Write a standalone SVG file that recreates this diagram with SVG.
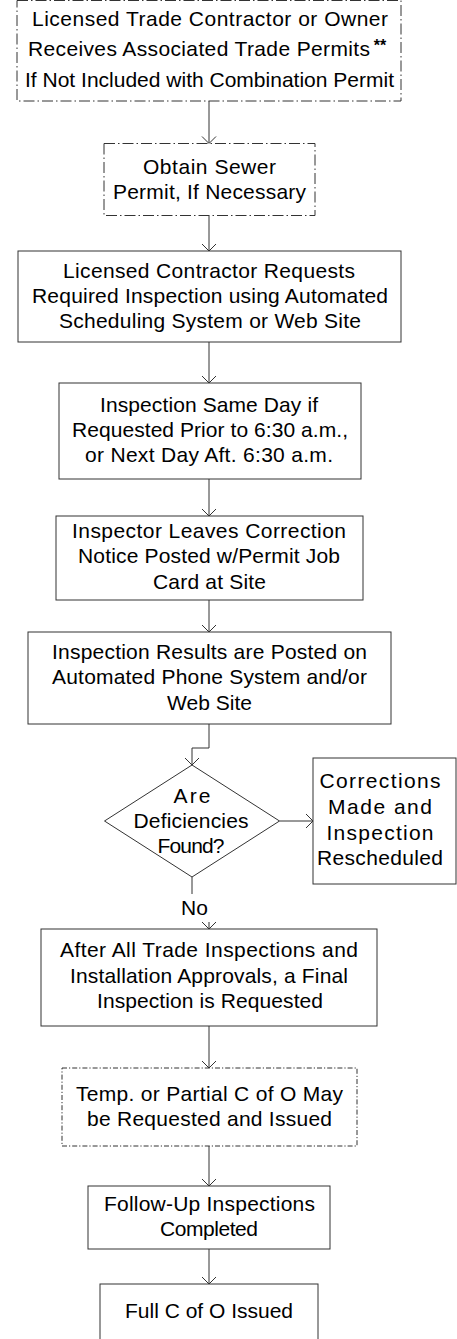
<svg xmlns="http://www.w3.org/2000/svg" width="457" height="1339" viewBox="0 0 457 1339">
<defs>
<style>
.box{fill:#fff;stroke:#333;stroke-width:1}
.dd{stroke-dasharray:11 3 1.5 3}
.dd2{stroke-dasharray:5 2 1.2 2}
.t{font-family:"Liberation Sans",Arial,sans-serif;font-size:21px;fill:#000;text-anchor:middle}
.c{fill:none;stroke:#333;stroke-width:1}
</style>
<marker id="ah" markerUnits="userSpaceOnUse" markerWidth="16" markerHeight="16" viewBox="-8 -8 16 16" refX="0" refY="0" orient="auto">
<path d="M-7,-7 L0,0 L-7,7" fill="none" stroke="#333" stroke-width="1"/>
</marker>
</defs>
<rect width="457" height="1339" fill="#fff"/>
<g id="connectors">
<path class="c" d="M209,101 V143.5" marker-end="url(#ah)"/>
<path class="c" d="M209,215.5 V251" marker-end="url(#ah)"/>
<path class="c" d="M209,342 V383" marker-end="url(#ah)"/>
<path class="c" d="M209,479 V516" marker-end="url(#ah)"/>
<path class="c" d="M209,600 V632" marker-end="url(#ah)"/>
<path class="c" d="M209,724 V748 H192 V765" marker-end="url(#ah)"/>
<path class="c" d="M279.5,821 H313" marker-end="url(#ah)"/>
<path class="c" d="M192,877 V905 H209 V929" marker-end="url(#ah)"/>
<path class="c" d="M209,1026 V1068" marker-end="url(#ah)"/>
<path class="c" d="M209,1146 V1186" marker-end="url(#ah)"/>
<path class="c" d="M209,1249 V1284" marker-end="url(#ah)"/>
</g>
<g id="label-no">
<rect x="179" y="894" width="33" height="28" fill="#fff"/>
<text class="t" x="194.5" y="915">No</text>
</g>
<g id="n1">
<rect class="box dd" x="17" y="0.5" width="384" height="100.5"/>
<text class="t" x="210" y="26" textLength="356" lengthAdjust="spacing">Licensed Trade Contractor or Owner</text>
<text class="t" x="199" y="56" textLength="342" lengthAdjust="spacing">Receives Associated Trade Permits</text>
<text x="380" y="51" style="font-family:'Liberation Sans',Arial,sans-serif;font-size:16px;font-weight:bold;text-anchor:middle">**</text>
<text class="t" x="209.5" y="87" textLength="369" lengthAdjust="spacing">If Not Included with Combination Permit</text>
</g>
<g id="n2">
<rect class="box dd" x="104" y="143.5" width="211" height="72"/>
<text class="t" x="209.5" y="174" textLength="133" lengthAdjust="spacing">Obtain Sewer</text>
<text class="t" x="209.5" y="199" textLength="193" lengthAdjust="spacing">Permit, If Necessary</text>
</g>
<g id="n3">
<rect class="box" x="18" y="251" width="383" height="91"/>
<text class="t" x="209" y="278" textLength="292" lengthAdjust="spacing">Licensed Contractor Requests</text>
<text class="t" x="210" y="303" textLength="356" lengthAdjust="spacing">Required Inspection using Automated</text>
<text class="t" x="210" y="328" textLength="302" lengthAdjust="spacing">Scheduling System or Web Site</text>
</g>
<g id="n4">
<rect class="box" x="59" y="383" width="302" height="96"/>
<text class="t" x="209" y="412" textLength="218" lengthAdjust="spacing">Inspection Same Day if</text>
<text class="t" x="210" y="437" textLength="276" lengthAdjust="spacing">Requested Prior to 6:30 a.m.,</text>
<text class="t" x="209" y="462" textLength="248" lengthAdjust="spacing">or Next Day Aft. 6:30 a.m.</text>
</g>
<g id="n5">
<rect class="box" x="56" y="516" width="307" height="84"/>
<text class="t" x="209" y="538" textLength="274" lengthAdjust="spacing">Inspector Leaves Correction</text>
<text class="t" x="209" y="563" textLength="262" lengthAdjust="spacing">Notice Posted w/Permit Job</text>
<text class="t" x="209.5" y="589" textLength="113" lengthAdjust="spacing">Card at Site</text>
</g>
<g id="n6">
<rect class="box" x="28" y="632" width="363" height="92"/>
<text class="t" x="209.5" y="659" textLength="315" lengthAdjust="spacing">Inspection Results are Posted on</text>
<text class="t" x="209.5" y="684" textLength="315" lengthAdjust="spacing">Automated Phone System and/or</text>
<text class="t" x="209.5" y="710" textLength="85" lengthAdjust="spacing">Web Site</text>
</g>
<g id="n7">
<polygon class="box" points="192,765 279.5,821 192,877 104.5,821"/>
<text class="t" x="192" y="803" textLength="37" lengthAdjust="spacing">Are</text>
<text class="t" x="191" y="828" textLength="115" lengthAdjust="spacing">Deficiencies</text>
<text class="t" x="191" y="853" textLength="67" lengthAdjust="spacing">Found?</text>
</g>
<g id="n8">
<rect class="box" x="313" y="758" width="143" height="126"/>
<text class="t" x="380" y="788" textLength="121" lengthAdjust="spacing">Corrections</text>
<text class="t" x="380" y="814" textLength="104" lengthAdjust="spacing">Made and</text>
<text class="t" x="380" y="840" textLength="107" lengthAdjust="spacing">Inspection</text>
<text class="t" x="380" y="865" textLength="126" lengthAdjust="spacing">Rescheduled</text>
</g>
<g id="n9">
<rect class="box" x="41" y="929" width="336" height="97"/>
<text class="t" x="209" y="957" textLength="298" lengthAdjust="spacing">After All Trade Inspections and</text>
<text class="t" x="209" y="983" textLength="278" lengthAdjust="spacing">Installation Approvals, a Final</text>
<text class="t" x="210" y="1008" textLength="226" lengthAdjust="spacing">Inspection is Requested</text>
</g>
<g id="n10">
<rect class="box dd2" x="62" y="1068" width="295" height="78"/>
<text class="t" x="209.5" y="1101" textLength="267" lengthAdjust="spacing">Temp. or Partial C of O May</text>
<text class="t" x="209.5" y="1126" textLength="245" lengthAdjust="spacing">be Requested and Issued</text>
</g>
<g id="n11">
<rect class="box" x="88" y="1186" width="242" height="63"/>
<text class="t" x="209.5" y="1211" textLength="211" lengthAdjust="spacing">Follow-Up Inspections</text>
<text class="t" x="209" y="1236" textLength="98" lengthAdjust="spacing">Completed</text>
</g>
<g id="n12">
<rect class="box" x="100" y="1284" width="218" height="80"/>
<text class="t" x="209" y="1318" textLength="168" lengthAdjust="spacing">Full C of O Issued</text>
</g>
</svg>
